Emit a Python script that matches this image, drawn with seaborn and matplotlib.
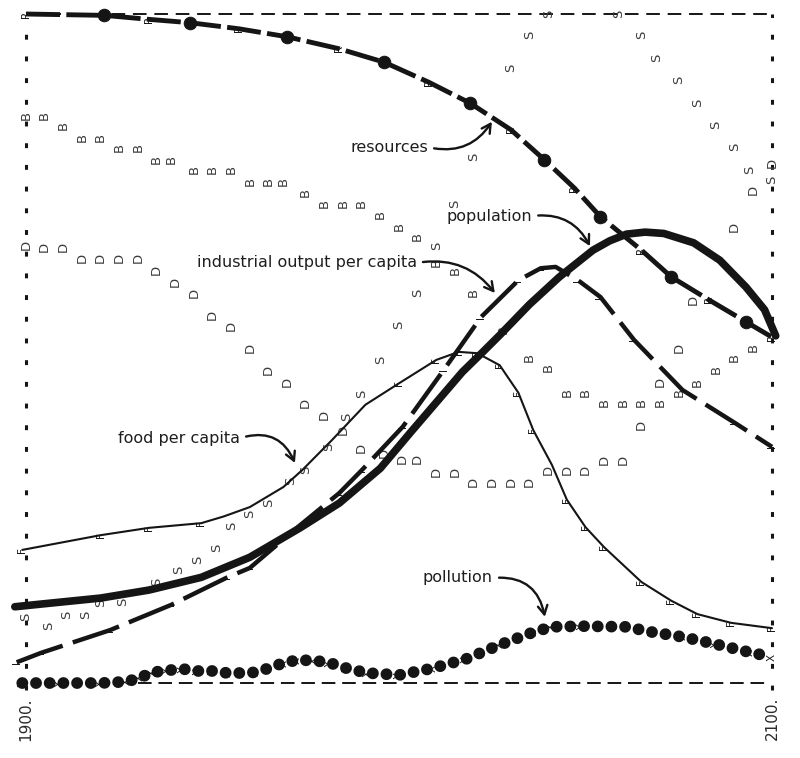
import numpy as np
import pandas as pd
import seaborn as sns
import matplotlib.pyplot as plt

# World model "standard run" 1900-2100, each curve on its own scale
# values below are read as share of plot height (0 = bottom, 100 = top)

res_year = [1900, 1921, 1933, 1944, 1957, 1970, 1984, 1996, 2008, 2019,
            2030, 2039, 2047, 2054, 2065, 2073, 2083, 2093, 2100]
res_val = [100, 99.8, 99.2, 98.7, 97.8, 96.6, 94.8, 92.8, 89.8, 86.7,
           82.7, 78.2, 74.0, 69.7, 64.7, 60.7, 57.3, 54.0, 51.7]
res_dots = [1, 3, 5, 7, 9, 11, 13, 15, 17]

pop_year = [1897, 1904, 1920, 1933, 1947, 1960, 1973.5, 1984, 1995, 2003,
            2011, 2017, 2022.5, 2027, 2035, 2043, 2052, 2056.5, 2061, 2066,
            2071, 2079, 2086, 2093, 2098, 2101]
pop_val = [11.4, 11.8, 12.7, 13.9, 15.8, 18.8, 23.2, 26.9, 32.1, 37.4,
           42.6, 46.5, 49.5, 52.0, 56.6, 60.7, 64.7, 66.1, 67.1, 67.4,
           67.2, 65.8, 63.2, 59.2, 55.8, 51.9]

ind_year = [1897.5, 1904, 1922.5, 1939, 1954, 1960, 1973.5, 1984, 1990, 2001,
            2012, 2022, 2032, 2038, 2042, 2048, 2054, 2063, 2076, 2090, 2100]
ind_val = [3.1, 4.5, 7.9, 11.7, 15.8, 17.2, 23.6, 28.4, 31.8, 38.3,
           46.8, 54.7, 60.2, 62.0, 62.2, 60.2, 57.7, 51.3, 43.8, 38.9, 35.3]

food_year = [1899, 1920, 1933, 1947, 1953, 1960, 1969, 1974, 1982, 1991, 2000,
             2010, 2016, 2021, 2027, 2032, 2036, 2041, 2045, 2050, 2055,
             2065, 2073, 2080, 2089, 2100]
food_val = [19.9, 22.1, 23.2, 23.9, 24.9, 26.3, 29.3, 31.8, 36.3, 41.6, 44.8,
            48.3, 49.5, 49.3, 47.5, 43.4, 37.8, 32.6, 27.4, 23.3, 20.3,
            15.1, 12.3, 10.3, 9.0, 8.2]

pol_year = [1899, 1909, 1920, 1927, 1930.5, 1934, 1938, 1942, 1946, 1950,
            1954, 1957.5, 1961.5, 1965, 1969, 1972.5, 1977, 1981.5, 1986, 1991.5,
            2000, 2009, 2018, 2027, 2036, 2041, 2049, 2061, 2068, 2076,
            2085, 2094, 2100]
pol_val = [0, 0, 0, 0.2, 0.8, 1.6, 1.9, 2.1, 1.8, 1.8,
           1.5, 1.5, 1.6, 2.2, 3.0, 3.4, 3.4, 3.0, 2.2, 1.5,
           1.2, 2.2, 3.6, 5.7, 7.6, 8.4, 8.5, 8.4, 7.6, 6.9,
           5.8, 4.6, 3.9]

# printer letters: B = birth rate, D = death rate, S = services per capita
b_year = [1900, 1905, 1910, 1915, 1920, 1925, 1930, 1935, 1939, 1945,
          1950, 1955, 1960, 1965, 1969, 1975, 1980, 1985, 1990, 1995,
          2000, 2005, 2010, 2015, 2020, 2028, 2035, 2040, 2045, 2050,
          2055, 2060, 2065, 2070, 2075, 2080, 2085, 2090, 2095]
b_val = [84.9, 84.9, 83.3, 81.6, 81.6, 80.0, 80.0, 78.3, 78.3, 76.7,
         76.7, 76.7, 75.0, 75.0, 75.0, 73.4, 71.7, 71.7, 71.7, 70.0,
         68.2, 66.7, 62.9, 61.7, 58.4, 52.8, 48.6, 47.1, 43.5, 43.5,
         41.9, 41.9, 41.9, 41.9, 43.5, 45.0, 46.8, 48.6, 50.1]

d_year = [1900, 1905, 1910, 1915, 1920, 1925, 1930, 1935, 1940, 1945,
          1950, 1955, 1960, 1965, 1970, 1975, 1980, 1985, 1990, 1996,
          2001, 2005, 2010, 2015, 2020, 2025, 2030, 2035, 2040, 2045,
          2050, 2055, 2060, 2065, 2070, 2075, 2079, 2090, 2095, 2100]
d_val = [65.5, 65.2, 65.2, 63.5, 63.5, 63.5, 63.5, 61.7, 59.9, 58.3,
         55.0, 53.4, 50.1, 46.8, 45.0, 41.9, 40.1, 37.8, 35.1, 34.4,
         33.5, 33.5, 31.5, 31.5, 30.0, 30.0, 30.0, 30.0, 31.8, 31.8,
         31.8, 33.3, 33.3, 38.6, 45.0, 50.1, 57.3, 68.2, 73.7, 77.7]

s_year = [1900, 1906, 1911, 1916, 1920, 1926, 1935, 1941, 1946, 1951,
          1955, 1960, 1965, 1971, 1975, 1981, 1986, 1990, 1995, 2000,
          2005, 2010, 2015, 2020, 2030, 2035, 2040, 2059, 2065, 2069,
          2075, 2080, 2085, 2090, 2094, 2100]
s_val = [9.9, 8.5, 10.2, 10.2, 12.0, 12.1, 15.1, 16.9, 18.4, 20.2,
         23.5, 25.3, 26.9, 30.3, 31.8, 35.3, 39.8, 43.3, 48.3, 53.5,
         58.3, 65.3, 71.7, 78.6, 91.9, 96.9, 100.1, 100.1, 96.9, 93.4,
         90.1, 86.7, 83.4, 80.1, 76.7, 75.2]

sns.set_theme(style="white")
plt.rcParams['font.family'] = ['DejaVu Sans']

ink = '#151515'
grey = '#3c3c3c'

fig = plt.figure(figsize=(8, 7.58), dpi=100)
ax = fig.add_axes([0.0325, 0.0989, 0.9325, 0.8826])
ax.set_xlim(1900, 2100)
ax.set_ylim(0, 100)
ax.axis('off')

# dashed frame
ax.axhline(100, color=ink, lw=1.4, ls=(0, (7, 4)), clip_on=False, zorder=1)
ax.axhline(0, xmin=0.15, xmax=0.99, color=ink, lw=1.4, ls=(0, (7, 3.5)), clip_on=False, zorder=1)
ax.axvline(1900, ymin=-0.01, ymax=0.975, color=ink, lw=2.2, ls=(0, (1.6, 5.5)), clip_on=False, zorder=1)
ax.axvline(2100, ymin=-0.01, ymax=1.0, color=ink, lw=2.2, ls=(0, (1.6, 5.5)), clip_on=False, zorder=1)

big_letters = list(zip(b_year, b_val)) + list(zip(d_year, d_val)) + list(zip(s_year, s_val))


def letters(xs, ys, ch, size=9.5, color=grey, z=2, skip_near=False):
    for x, y in zip(xs, ys):
        # curve letters give way to the B/D/S letters
        if skip_near and any(abs(x - bx) < 2.5 and abs(y - by) < 2.5 for bx, by in big_letters):
            continue
        ax.text(x, y, ch, rotation=90, ha='center', va='center',
                fontsize=size, color=color, zorder=z, clip_on=False)


letters(b_year, b_val, 'B')
letters(d_year, d_val, 'D')
letters(s_year, s_val, 'S')

# small plot letters sitting under the curves
letters(res_year, res_val, 'R', size=7.5, color=ink, z=3, skip_near=True)
letters(food_year, food_val, 'F', size=7.5, color=ink, z=3, skip_near=True)
letters(ind_year, ind_val, 'I', size=7.5, color=ink, z=3, skip_near=True)
letters(pol_year, pol_val, 'X', size=7.5, color=ink, z=3, skip_near=True)

# curves
sns.lineplot(x=pol_year, y=pol_val, ax=ax, color=ink, linewidth=8.5,
             linestyle=(0, (0.01, 1.15)), dash_capstyle='round', clip_on=False, zorder=4)
sns.lineplot(x=food_year, y=food_val, ax=ax, color=ink, linewidth=1.5, clip_on=False, zorder=4)
sns.lineplot(x=ind_year, y=ind_val, ax=ax, color=ink, linewidth=3.2,
             linestyle=(0, (11, 2.4)), clip_on=False, zorder=5)
sns.lineplot(x=pop_year, y=pop_val, ax=ax, color=ink, linewidth=5.5,
             solid_capstyle='round', solid_joinstyle='round', clip_on=False, zorder=6)
sns.lineplot(x=res_year, y=res_val, ax=ax, color=ink, linewidth=3.5,
             linestyle=(0, (7, 1.3)), marker='o', markersize=9, markevery=res_dots,
             markeredgecolor=ink, markerfacecolor=ink, clip_on=False, zorder=6)


# labels with curved arrows
def label(txt, xy, xytext, rad):
    ax.annotate(txt, xy=xy, xytext=xytext, ha='right', va='center',
                fontsize=11.5, color='#1e1e1e', zorder=8,
                arrowprops=dict(arrowstyle='->,head_length=0.55,head_width=0.3',
                                color=ink, lw=1.7, relpos=(1, 0.5),
                                shrinkA=2, shrinkB=0,
                                connectionstyle='arc3,rad=%s' % rad))


label('resources', (2024.9, 83.9), (2007.8, 80.1), 0.35)
label('population', (2051.2, 65.3), (2035.7, 69.8), -0.35)
label('industrial output per capita', (2025.7, 58.3), (2004.8, 62.8), -0.3)
label('food per capita', (1972.1, 32.9), (1957.4, 36.6), -0.45)
label('pollution', (2039.1, 9.9), (2025.2, 15.7), -0.45)

ax.text(1900, -2.1, '1900.', rotation=90, ha='center', va='top', fontsize=11, color='#2a2a2a')
ax.text(2100, -2.1, '2100.', rotation=90, ha='center', va='top', fontsize=11, color='#2a2a2a')

fig.savefig('out.png', dpi=100)
